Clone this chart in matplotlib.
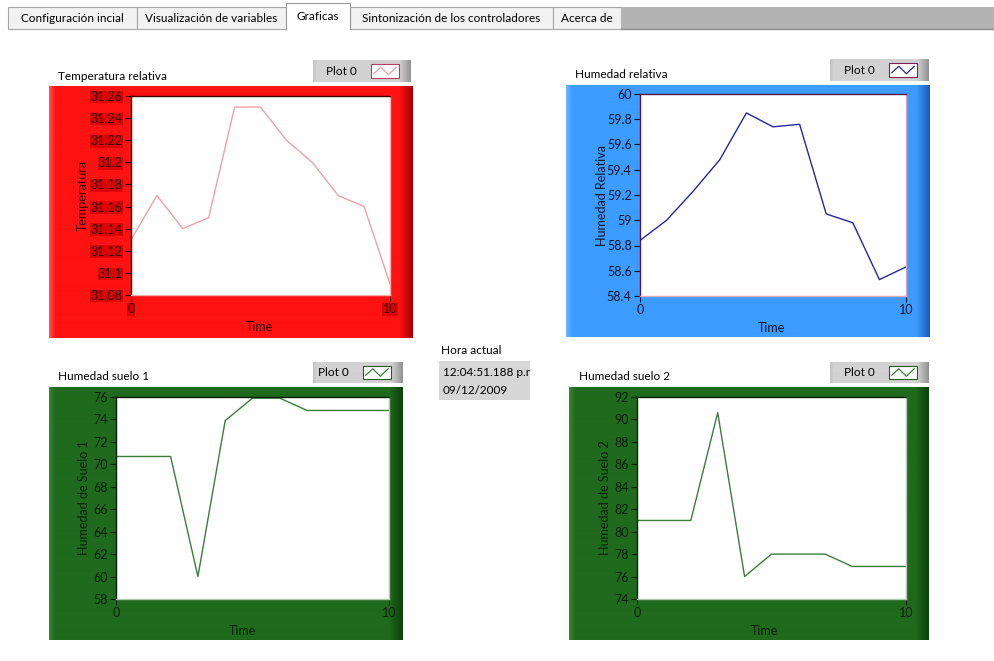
import matplotlib
matplotlib.use('Agg')
import matplotlib.pyplot as plt
import numpy as np
from matplotlib.patches import Rectangle
from matplotlib.lines import Line2D
from matplotlib.legend_handler import HandlerBase

plt.rcParams['font.family'] = ['Lato', 'DejaVu Sans']

# ---------------- data ----------------
tab_names = ['Configuración incial', 'Visualización de variables', 'Graficas',
             'Sintonización de los controladores', 'Acerca de']
time_idx = [0, 1, 2, 3, 4, 5, 6, 7, 8, 9, 10]

temp_vals = [31.13, 31.17, 31.14, 31.15, 31.25, 31.25, 31.22, 31.20, 31.17, 31.16, 31.09]
temp_ticks = [31.08, 31.10, 31.12, 31.14, 31.16, 31.18, 31.20, 31.22, 31.24, 31.26]
temp_ticklabels = ['31.08', '31.1', '31.12', '31.14', '31.16', '31.18', '31.2', '31.22', '31.24', '31.26']

hum_vals = [58.84, 59.00, 59.23, 59.48, 59.85, 59.74, 59.76, 59.05, 58.98, 58.53, 58.63]
hum_ticks = [58.4, 58.6, 58.8, 59.0, 59.2, 59.4, 59.6, 59.8, 60.0]
hum_ticklabels = ['58.4', '58.6', '58.8', '59', '59.2', '59.4', '59.6', '59.8', '60']

suelo1_vals = [70.7, 70.7, 70.7, 60.0, 73.9, 75.9, 75.9, 74.8, 74.8, 74.8, 74.8]
suelo1_ticks = [58, 60, 62, 64, 66, 68, 70, 72, 74, 76]
suelo1_ticklabels = ['58', '60', '62', '64', '66', '68', '70', '72', '74', '76']

suelo2_vals = [81.0, 81.0, 81.0, 90.6, 76.0, 78.0, 78.0, 78.0, 76.9, 76.9, 76.9]
suelo2_ticks = [74, 76, 78, 80, 82, 84, 86, 88, 90, 92]
suelo2_ticklabels = ['74', '76', '78', '80', '82', '84', '86', '88', '90', '92']

x_ticks = [0, 10]
x_ticklabels = ['0', '10']

hora_label = 'Hora actual'
hora_text = ['12:04:51.188 p.m', '09/12/2009']

# ---------------- figure ----------------
W, H = 994, 661
fig = plt.figure(figsize=(W / 100, H / 100), dpi=100)
fig.patch.set_facecolor('white')

bg = fig.add_axes([0, 0, 1, 1])
bg.set_xlim(0, W)
bg.set_ylim(H, 0)
bg.axis('off')


def rect(x0, y0, x1, y1):
    return [x0 / W, 1 - y1 / H, (x1 - x0) / W, (y1 - y0) / H]


def hex2rgb(h):
    h = h.lstrip('#')
    return np.array([int(h[i:i + 2], 16) / 255 for i in (0, 2, 4)])


def hgrad(x0, y0, x1, y1, base, light, dark, lw_px=5, rw_px=12, z=1):
    w = int(x1 - x0)
    b, l, d = hex2rgb(base), hex2rgb(light), hex2rgb(dark)
    arr = np.zeros((1, w, 3))
    for i in range(w):
        if i < lw_px:
            t = i / lw_px
            c = l * (1 - t) + b * t
        elif i > w - rw_px:
            t = (i - (w - rw_px)) / rw_px
            c = b * (1 - t) + d * t
        else:
            c = b
        arr[0, i] = c
    bg.imshow(arr, extent=(x0, x1, y1, y0), aspect='auto', interpolation='bilinear', zorder=z)


# ---------------- tabs ----------------
tab_edges = [8, 137, 286, 350, 553, 621]
for i, name in enumerate(tab_names):
    x0, x1 = tab_edges[i], tab_edges[i + 1]
    if i == 2:
        bg.add_patch(Rectangle((x0, 3), x1 - x0, 28, facecolor='white', edgecolor='#9a9a9a', lw=0.8, zorder=3))
        bg.plot([x0 + 0.5, x1 - 0.5], [31, 31], color='white', lw=2, zorder=4)
        bg.text((x0 + x1) / 2, 16, name, ha='center', va='center', fontsize=8.5, color='black', zorder=5)
    else:
        bg.add_patch(Rectangle((x0, 7), x1 - x0, 22, facecolor='#f2f2f2', edgecolor='#a6a6a6', lw=0.8, zorder=2))
        bg.text((x0 + x1) / 2, 18.5, name, ha='center', va='center', fontsize=8.5, color='black', zorder=5)
bg.add_patch(Rectangle((621, 7), W - 621, 22, facecolor='#b3b3b3', edgecolor='none', zorder=2))
bg.plot([621, W], [29, 29], color='#8c8c8c', lw=1, zorder=2)


# ---------------- legend handler ----------------
class ZigHandler(HandlerBase):
    def __init__(self, edge):
        super().__init__()
        self.edge = edge

    def create_artists(self, legend, orig_handle, xdescent, ydescent, width, height, fontsize, trans):
        r = Rectangle((-xdescent, -ydescent), width, height, facecolor='white',
                      edgecolor=self.edge, lw=0.8, transform=trans)
        xs = -xdescent + width * np.array([0.1, 0.35, 0.62, 0.9])
        ys = -ydescent + height * np.array([0.3, 0.78, 0.22, 0.78])
        ln = Line2D(xs, ys, color=orig_handle.get_color(), lw=0.9, transform=trans)
        return [r, ln]


# ---------------- panels ----------------
panels = [
    dict(title='Temperatura relativa', tpos=(58, 76), frame=(49, 86, 413, 338), plot=(131, 96, 390, 295),
         leg=(313, 60, 411, 82), vals=temp_vals, ticks=temp_ticks, labels=temp_ticklabels,
         ylab='Temperatura', ylpos=(83, 195), xlpos=(260, 327),
         base='#ff1212', light='#ff5050', dark='#a00000', line='#f0a0a8',
         txt='#3a0000', spine_dark='#3a0000', spine_light='#f0b0b0', lblbg='#dc0000', swedge='#b04060'),
    dict(title='Humedad relativa', tpos=(575, 74), frame=(566, 85, 930, 337), plot=(640, 94, 906, 296),
         leg=(830, 59, 929, 81), vals=hum_vals, ticks=hum_ticks, labels=hum_ticklabels,
         ylab='Humedad Relativa', ylpos=(602, 195), xlpos=(772, 328),
         base='#3c9cff', light='#6ab4ff', dark='#1656b0', line='#2626a0',
         txt='#0a1530', spine_dark='#5a1840', spine_light='#d8a8c0', lblbg=None, swedge='#7a2050'),
    dict(title='Humedad suelo 1', tpos=(58, 377), frame=(49, 387, 403, 640), plot=(116, 397, 389, 599),
         leg=(313, 362, 403, 383), vals=suelo1_vals, ticks=suelo1_ticks, labels=suelo1_ticklabels,
         ylab='Humedad de Suelo 1', ylpos=(84, 498), xlpos=(243, 631),
         base='#1f6a1c', light='#3a8236', dark='#0a400a', line='#3c7c3c',
         txt='#0a200a', spine_dark='#0a200a', spine_light='#b0c8b0', lblbg=None, swedge='#2a5a2a'),
    dict(title='Humedad suelo 2', tpos=(579, 377), frame=(569, 387, 929, 640), plot=(637, 397, 906, 599),
         leg=(830, 362, 929, 383), vals=suelo2_vals, ticks=suelo2_ticks, labels=suelo2_ticklabels,
         ylab='Humedad de Suelo 2', ylpos=(605, 498), xlpos=(765, 631),
         base='#1f6a1c', light='#3a8236', dark='#0a400a', line='#3c7c3c',
         txt='#0a200a', spine_dark='#0a200a', spine_light='#b0c8b0', lblbg=None, swedge='#2a5a2a'),
]

for p in panels:
    fx0, fy0, fx1, fy1 = p['frame']
    hgrad(fx0, fy0, fx1, fy1, p['base'], p['light'], p['dark'], lw_px=6, rw_px=14, z=1)
    bg.text(p['tpos'][0], p['tpos'][1], p['title'], ha='left', va='center', fontsize=8.5, color='black', zorder=5)

    # legend button background
    lx0, ly0, lx1, ly1 = p['leg']
    hgrad(lx0, ly0, lx1, ly1, '#d2d2d2', '#c4c4c4', '#8e8e8e', lw_px=3, rw_px=12, z=2)

    px0, py0, px1, py1 = p['plot']
    ax = fig.add_axes(rect(px0, py0, px1, py1))
    ax.set_facecolor('white')
    line, = ax.plot(time_idx, p['vals'], color=p['line'], lw=1.0)
    ax.set_xlim(0, 10)
    ax.set_ylim(p['ticks'][0], p['ticks'][-1])
    ax.set_yticks(p['ticks'])
    ax.set_yticklabels(p['labels'])
    ax.set_xticks(x_ticks)
    ax.set_xticklabels(x_ticklabels)
    ax.tick_params(axis='both', direction='out', length=4, width=0.8, color=p['txt'],
                   labelcolor=p['txt'], labelsize=9, pad=2)
    if p['lblbg']:
        for t in ax.get_yticklabels() + ax.get_xticklabels():
            t.set_bbox(dict(facecolor=p['lblbg'], edgecolor='none', pad=0.3))
    ax.spines['left'].set_color(p['spine_dark'])
    ax.spines['top'].set_color(p['spine_dark'])
    ax.spines['right'].set_color(p['spine_light'])
    ax.spines['bottom'].set_color(p['spine_light'])
    for s in ax.spines.values():
        s.set_linewidth(1.0)

    bg.text(p['ylpos'][0], p['ylpos'][1], p['ylab'], rotation=90, ha='center', va='center',
            fontsize=9, color=p['txt'], zorder=5)
    bg.text(p['xlpos'][0], p['xlpos'][1], 'Time', ha='center', va='center',
            fontsize=9, color=p['txt'], zorder=5)

    fs = 8.5
    fpx = fs * 100 / 72
    leg = ax.legend([line], ['Plot 0'], handler_map={line: ZigHandler(p['swedge'])},
                    markerfirst=False, frameon=False, loc='center right',
                    bbox_to_anchor=((lx1 - 12) / W, 1 - ((ly0 + ly1) / 2) / H),
                    bbox_transform=fig.transFigure, borderpad=0, borderaxespad=0,
                    handlelength=28 / fpx, handleheight=16 / fpx, handletextpad=14 / fpx,
                    fontsize=fs)

# ---------------- Hora actual ----------------
bg.text(441, 350, hora_label, ha='left', va='center', fontsize=8.5, color='black', zorder=5)
box = Rectangle((439, 361), 91, 39, facecolor='#d6d6d6', edgecolor='none', zorder=3)
bg.add_patch(box)
for i, s in enumerate(hora_text):
    t = bg.text(443, 373 + 18 * i, s, ha='left', va='center', fontsize=8.5, color='black', zorder=5)
    t.set_clip_path(box)
    t.set_clip_on(True)

bg.set_xlim(0, W)
bg.set_ylim(H, 0)

fig.savefig('out.png', dpi=100, facecolor='white')
